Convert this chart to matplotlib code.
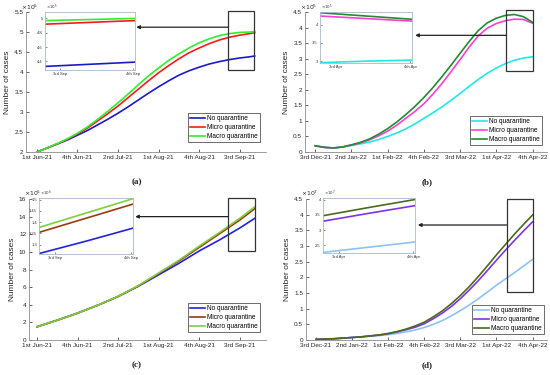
import numpy as np
import matplotlib
matplotlib.use("Agg")
import matplotlib.pyplot as plt
from matplotlib.patches import Rectangle
from matplotlib.ticker import FormatStrFormatter

plt.rcParams.update({
    "font.family": "Liberation Sans",
    "font.size": 5,
    "axes.linewidth": 0.6,
})

W, H = 550, 375
LABELS = ["No quarantine", "Micro quarantine", "Macro quarantine"]

# ---- panel (a) ----
xt_a = ["1st Jun-21", "4th Jun-21", "2nd Jul-21", "1st Aug-21", "4th Aug-21", "3rd Sep-21"]
x_a = [0, 0.25, 0.5, 0.75, 1, 1.25, 1.5, 1.75, 2, 2.25, 2.5, 2.75, 3, 3.25, 3.5,
       3.75, 4, 4.25, 4.5, 4.75, 5, 5.25, 5.37]
a_no = [2.0, 2.1, 2.2, 2.3, 2.42, 2.54, 2.68, 2.82, 2.97, 3.13, 3.3, 3.47, 3.63,
        3.78, 3.92, 4.03, 4.12, 4.2, 4.26, 4.31, 4.35, 4.38, 4.4]
a_micro = [2.0, 2.1, 2.2, 2.32, 2.45, 2.6, 2.78, 2.96, 3.15, 3.36, 3.57, 3.78, 3.98,
           4.16, 4.33, 4.48, 4.6, 4.71, 4.8, 4.87, 4.92, 4.96, 4.98]
a_macro = [2.0, 2.1, 2.21, 2.33, 2.47, 2.63, 2.82, 3.02, 3.23, 3.45, 3.68, 3.9, 4.1,
           4.29, 4.45, 4.6, 4.73, 4.83, 4.91, 4.96, 4.99, 5.0, 5.01]
ins_x = [0, 0.5, 1]
ia_no = [4.33, 4.36, 4.39]
ia_micro = [4.92, 4.945, 4.97]
ia_macro = [4.97, 4.985, 5.0]

# ---- panel (b) ----
xt_b = ["3rd Dec-21", "2nd Jan-22", "1st Feb-22", "4th Feb-22", "3rd Mar-22", "1st Apr-22", "4th Apr-22"]
x_b = [0, 0.25, 0.5, 0.75, 1, 1.25, 1.5, 1.75, 2, 2.25, 2.5, 2.75, 3, 3.25, 3.5,
       3.75, 4, 4.25, 4.5, 4.75, 5, 5.25, 5.5, 5.75, 6]
b_no = [0.2, 0.15, 0.13, 0.16, 0.21, 0.26, 0.32, 0.4, 0.5, 0.61, 0.74, 0.9, 1.08,
        1.26, 1.45, 1.66, 1.88, 2.11, 2.33, 2.53, 2.7, 2.84, 2.95, 3.02, 3.06]
b_micro = [0.2, 0.15, 0.13, 0.16, 0.22, 0.29, 0.39, 0.52, 0.67, 0.86, 1.08, 1.3, 1.55,
           1.86, 2.2, 2.58, 2.97, 3.37, 3.73, 3.98, 4.13, 4.22, 4.27, 4.26, 4.14]
b_macro = [0.2, 0.15, 0.13, 0.16, 0.23, 0.31, 0.42, 0.57, 0.75, 0.96, 1.2, 1.46, 1.75,
           2.07, 2.42, 2.79, 3.17, 3.55, 3.9, 4.15, 4.3, 4.39, 4.42, 4.35, 4.17]
ib_no = [2.96, 3.0, 3.03]
ib_micro = [4.24, 4.17, 4.1]
ib_macro = [4.33, 4.24, 4.15]

# ---- panel (c) ----
x_c = [0, 0.5, 1, 1.5, 2, 2.5, 3, 3.5, 4, 4.5, 5, 5.37]
c_no = [1.5, 2.25, 3.05, 3.95, 4.93, 6.1, 7.4, 8.7, 10.1, 11.35, 12.7, 13.8]
c_micro = [1.5, 2.25, 3.05, 3.95, 4.95, 6.15, 7.55, 8.95, 10.5, 12.05, 13.6, 14.9]
c_macro = [1.5, 2.25, 3.05, 3.95, 4.95, 6.17, 7.6, 9.05, 10.65, 12.2, 13.8, 15.1]
ic_no = [1.26, 1.315, 1.373]
ic_micro = [1.354, 1.417, 1.48]
ic_macro = [1.376, 1.44, 1.504]

# ---- panel (d) ----
d_no = [0.02, 0.03, 0.04, 0.06, 0.08, 0.1, 0.12, 0.14, 0.17, 0.21, 0.26, 0.32, 0.4,
        0.5, 0.62, 0.77, 0.94, 1.12, 1.32, 1.53, 1.75, 1.95, 2.15, 2.36, 2.57]
d_micro = [0.02, 0.03, 0.04, 0.06, 0.08, 0.1, 0.13, 0.16, 0.2, 0.26, 0.33, 0.41, 0.52,
           0.68, 0.86, 1.07, 1.32, 1.6, 1.9, 2.22, 2.55, 2.87, 3.18, 3.48, 3.77]
d_macro = [0.02, 0.03, 0.04, 0.06, 0.08, 0.1, 0.13, 0.16, 0.21, 0.27, 0.35, 0.45, 0.57,
           0.74, 0.93, 1.16, 1.42, 1.71, 2.03, 2.37, 2.72, 3.05, 3.38, 3.69, 3.99]
id_no = [2.27, 2.44, 2.61]
id_micro = [3.29, 3.55, 3.8]
id_macro = [3.47, 3.74, 4.0]


def px_axes(fig, x0, y0, x1, y1):
    return fig.add_axes([x0 / W, 1 - y1 / H, (x1 - x0) / W, (y1 - y0) / H])


def style_main(ax, box, xlabels, xlim, ylim, yticks, exp):
    ax.set_xlim(*xlim)
    ax.set_ylim(*ylim)
    ax.set_xticks(range(len(xlabels)))
    ax.set_xticklabels(xlabels, fontsize=4.6)
    ax.set_yticks(yticks)
    ax.yaxis.set_major_formatter(FormatStrFormatter("%g"))
    ax.tick_params(direction="in", length=2, width=0.5, labelsize=4.6,
                   colors="#262626", pad=2)
    for s in ["top", "right"]:
        ax.spines[s].set_visible(False)
    for s in ["left", "bottom"]:
        ax.spines[s].set_color("#8c8c8c")
    ax.set_ylabel("Number of cases", fontsize=6, color="#262626", labelpad=2)
    # exponent label just above the top of the y axis
    fig = ax.figure
    fig.text((box[0] - 5) / W, 1 - (box[1] - 0.5) / H, r"$\times10^{%d}$" % exp,
             fontsize=4.4, color="#262626", ha="left", va="bottom")


def style_inset(ax, xlabels, ylim, yticks, exp):
    ax.set_xlim(0, 1)
    ax.set_ylim(*ylim)
    ax.set_xticks([0.17, 0.98])
    ax.set_xticklabels(xlabels, fontsize=3)
    ax.set_yticks(yticks)
    ax.yaxis.set_major_formatter(FormatStrFormatter("%g"))
    ax.tick_params(direction="in", length=1.5, width=0.4, labelsize=3,
                   colors="#333333", pad=1.5)
    for s in ax.spines.values():
        s.set_color("#a8b8cc")
        s.set_linewidth(0.6)
    ax.text(0.01, 1.0, r"$\times10^{%d}$" % exp, transform=ax.transAxes,
            fontsize=2.8, color="#333333", ha="left", va="bottom")


def draw_panel(fig, box, ibox, xs, ys, iys, colors, xlabels, xlim, ylim, yticks,
               exp, ilabels, iylim, iyticks, exp_i, rect, arrow_y, arrow_x, leg_pt):
    ax = px_axes(fig, *box)
    for y, c, lab in zip(ys, colors, LABELS):
        ax.plot(xs, y, color=c, lw=1.2, label=lab)
    style_main(ax, box, xlabels, xlim, ylim, yticks, exp)
    rx0, rx1, ry0, ry1 = rect
    ax.add_patch(Rectangle((rx0, ry0), rx1 - rx0, ry1 - ry0, fill=False,
                           ec="#333333", lw=0.9, clip_on=False, zorder=5))
    ax.annotate("", xy=(arrow_x, arrow_y), xytext=(rx0, arrow_y),
                arrowprops=dict(arrowstyle="-|>", color="#222222", lw=0.9,
                                mutation_scale=5, shrinkA=0, shrinkB=0),
                zorder=5)
    leg = ax.legend(loc="lower right", bbox_to_anchor=(leg_pt[0] / W, 1 - leg_pt[1] / H),
                    bbox_transform=fig.transFigure, fontsize=4.7, frameon=True,
                    fancybox=False, edgecolor="#333333", framealpha=1,
                    handlelength=2.3, handletextpad=0.4, borderpad=0.3,
                    labelspacing=0.3, borderaxespad=0)
    leg.get_frame().set_linewidth(0.5)

    ins = px_axes(fig, *ibox)
    for y, c in zip(iys, colors):
        ins.plot(ins_x, y, color=c, lw=1.2)
    style_inset(ins, ilabels, iylim, iyticks, exp_i)
    return ax


fig = plt.figure(figsize=(W / 100, H / 100), dpi=100)

# (a)
draw_panel(fig, (26, 12, 266, 152), (45, 12, 135, 70), x_a,
           [a_no, a_micro, a_macro], [ia_no, ia_micro, ia_macro],
           ["#1a1acc", "#ff1a1a", "#2ef02e"], xt_a, (-0.27, 5.65), (2, 5.5),
           np.arange(2, 5.51, 0.5), 5, ["3rd Sep", "4th Sep"], (4.28, 5.09),
           [4.4, 4.6, 4.8, 5.0], 5, (4.72, 5.36, 4.05, 5.52), 5.12, 2.45, (260, 142))

# (b)
draw_panel(fig, (305, 12, 547, 152), (320, 12, 412, 63), x_b,
           [b_no, b_micro, b_macro], [ib_no, ib_micro, ib_macro],
           ["#22e8e8", "#ff3fd2", "#1f8c2f"], xt_b, (-0.28, 6.4), (0, 4.5),
           np.arange(0, 4.51, 0.5), 5, ["3rd Apr", "4th Apr"], (2.95, 4.35),
           [3, 3.5, 4], 5, (5.28, 6.0, 2.61, 4.55), 3.75, 2.76, (542, 145))

# (c)
draw_panel(fig, (29, 199, 266, 340), (39, 198, 133, 254), x_c,
           [c_no, c_micro, c_macro], [ic_no, ic_micro, ic_macro],
           ["#2222e0", "#9a3a12", "#7fcf3a"], xt_a, (-0.2, 5.65), (0, 16),
           np.arange(0, 16.1, 2), 5, ["3rd Sep", "4th Sep"], (1.258, 1.507),
           [1.3, 1.35, 1.4, 1.45, 1.5], 6, (4.72, 5.38, 10.1, 16.1), 14.0, 2.42, (260, 332))

# (d)
draw_panel(fig, (306, 199, 547, 340), (323, 198, 415, 253), x_b,
           [d_no, d_micro, d_macro], [id_no, id_micro, id_macro],
           ["#8ec2f2", "#8033e6", "#4a6a1c"], xt_b, (-0.28, 6.4), (0, 4.5),
           np.arange(0, 4.51, 0.5), 7, ["3rd Apr", "4th Apr"], (2.25, 4.05),
           [2.5, 3, 3.5, 4], 7, (5.28, 6.0, 1.53, 4.5), 3.67, 2.82, (544, 334))

for lab, x, y in [("(a)", 137, 182), ("(b)", 427, 182), ("(c)", 137, 365), ("(d)", 427, 365)]:
    fig.text(x / W, 1 - y / H, lab, ha="center", va="center", fontsize=6.5,
             family="Liberation Serif", fontweight="bold", color="#222222")

fig.savefig("out.png", dpi=100)
